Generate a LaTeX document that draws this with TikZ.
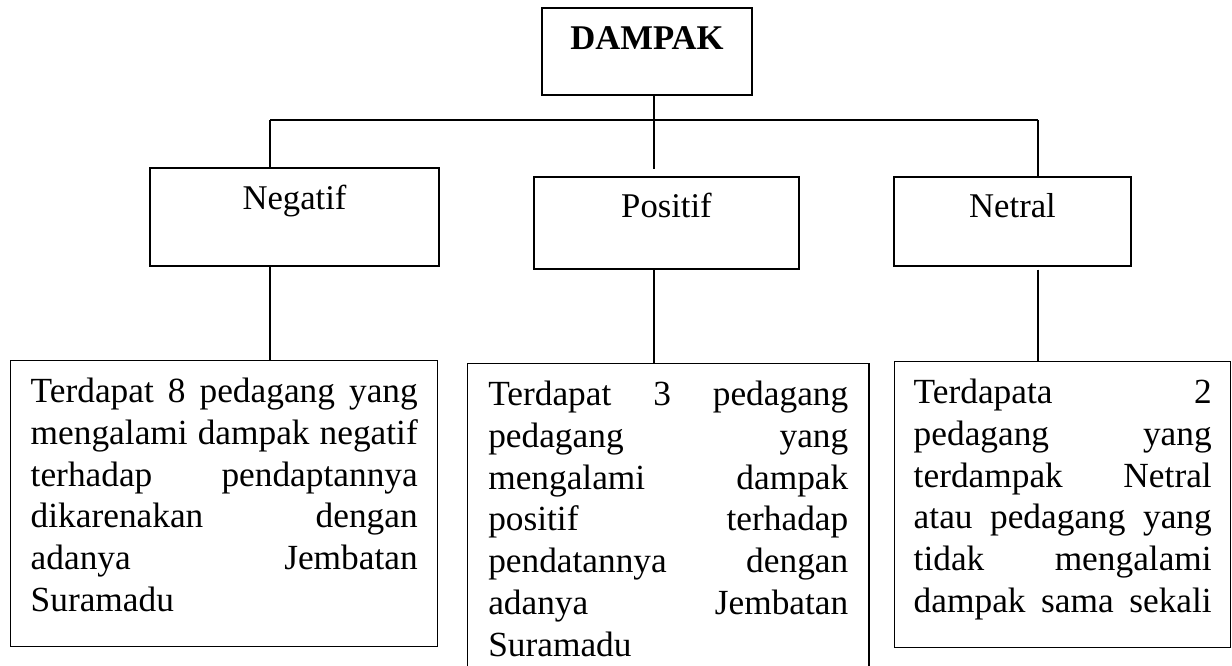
\documentclass[tikz,border=0pt]{standalone}
\usepackage{fontspec}
\setmainfont{Liberation Serif}
\newcommand\jl[1]{\makebox[\linewidth][s]{#1}\\}
\newcommand\firststrut{\rule{0pt}{31.5pt}}
\tikzset{
  head/.style={draw, line width=1.1pt, inner sep=0pt, font=\fontsize{26}{31.3}\selectfont},
  body/.style={draw, line width=1.1pt, anchor=north west, inner ysep=0pt, font=\fontsize{26.5}{31.3}\selectfont},
  conn/.style={line width=0.8pt}
}
\begin{document}
\begin{tikzpicture}[x=0.75pt,y=-0.75pt]
\useasboundingbox (0,0) rectangle (1232,666);
\clip (0,0) rectangle (1232,666);
% top
\node[head, minimum width=157.5pt, minimum height=65.25pt, text height=31.5pt, text depth=33.75pt] (dampak) at (647,51.5) {\bfseries DAMPAK};
\node[head, minimum width=216.75pt, minimum height=73.5pt, text height=31.5pt, text depth=42pt] (neg) at (294.5,217) {Negatif};
\node[head, minimum width=198.75pt, minimum height=69pt, text height=30.75pt, text depth=38.25pt] (pos) at (666.5,223) {Positif};
\node[head, minimum width=177.75pt, minimum height=66.75pt, text height=30.75pt, text depth=36pt] (net) at (1012.5,221.5) {Netral};
% bottom
\node[body, inner xsep=15pt] (d1) at (10,360) {\parbox[t][214.5pt][t]{290.25pt}{\firststrut
\jl{Terdapat 8 pedagang yang}
\jl{mengalami dampak negatif}
\jl{terhadap pendaptannya}
\jl{dikarenakan dengan}
\jl{adanya Jembatan}
Suramadu}};
\node[body, inner xsep=15.4pt] (d2) at (467,363) {\parbox[t][330pt][t]{270pt}{\firststrut
\jl{Terdapat 3 pedagang}
\jl{pedagang yang}
\jl{mengalami dampak}
\jl{positif terhadap}
\jl{pendatannya dengan}
\jl{adanya Jembatan}
Suramadu}};
\node[body, inner xsep=14.25pt] (d3) at (894,361) {\parbox[t][214.5pt][t]{223.5pt}{\firststrut
\jl{Terdapata 2}
\jl{pedagang yang}
\jl{terdampak Netral}
\jl{atau pedagang yang}
\jl{tidak mengalami}
\jl{dampak sama sekali}}};
% connectors
\coordinate (hl) at (270,120);
\coordinate (hc) at (654,120);
\coordinate (hr) at (1038,120);
\coordinate (pc) at (654,169);
\draw[conn] (hl) -- (hr);
\draw[conn] (hc |- dampak.south) -- (pc);
\draw[conn] (hl) -- (hl |- neg.north);
\draw[conn] (hr) -- (hr |- net.north);
\draw[conn] (hl |- neg.south) -- (hl |- d1.north);
\draw[conn] (hc |- pos.south) -- (hc |- d2.north);
\draw[conn] (hr |- pos.south) -- (hr |- d3.north);
\end{tikzpicture}
\end{document}
